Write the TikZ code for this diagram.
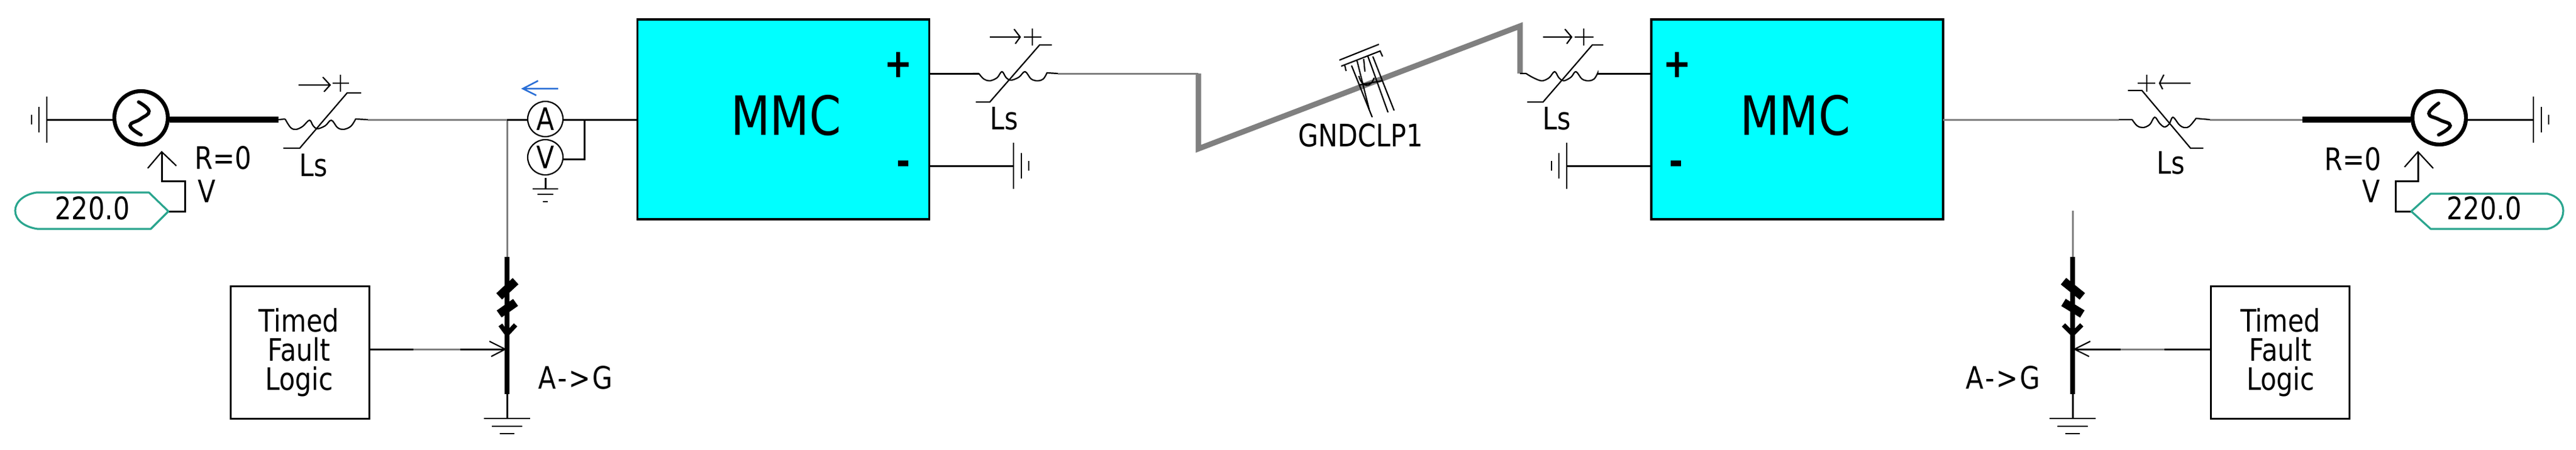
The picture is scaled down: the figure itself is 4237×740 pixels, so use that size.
\documentclass[tikz,border=0pt]{standalone}
\usepackage{fontspec}
\setmainfont[FakeStretch=0.84]{DejaVu Sans}
\usetikzlibrary{calc}
\definecolor{wiregray}{HTML}{808080}
\definecolor{cablegray}{HTML}{808080}
\definecolor{mmccyan}{HTML}{00FFFF}
\definecolor{tagteal}{HTML}{2AA58E}
\definecolor{flowblue}{HTML}{2A6FD6}
\tikzset{
  wire/.style={line width=1.5pt,black},
  gwire/.style={line width=1.5pt,wiregray},
  bus/.style={line width=4.8pt,black},
  cable/.style={line width=4.5pt,cablegray,line join=miter},
  thin sym/.style={line width=1.1pt,black},
  bar/.style={line width=1.4pt,black},
  lbl/.style={inner sep=0pt,font=\fontsize{25.5}{27}\selectfont},
  mmcbox/.style={draw=black,line width=1.6pt,fill=mmccyan,rectangle,inner sep=0pt,outer sep=0pt,minimum width=240pt,minimum height=164.5pt},
  logicbox/.style={draw=black,line width=1.5pt,fill=white,rectangle,inner sep=0pt,outer sep=0pt,minimum width=114pt,minimum height=109pt},
  logictext/.style={inner sep=0pt,align=center,font=\fontsize{25.5}{24}\selectfont},
  source/.style={draw=black,circle,line width=3.2pt,inner sep=0pt,outer sep=1.6pt,minimum size=44pt},
  meter/.style={draw=black,circle,line width=1.1pt,inner sep=0pt,outer sep=.5pt,minimum size=29pt,font=\fontsize{25.5}{27}\selectfont},
  sine/.style={line width=2.8pt,black,line cap=round},
  tag/.style={draw=tagteal,line width=1.6pt,fill=white,line join=round},
  polarity/.style={inner sep=0pt,font=\fontsize{33}{35}\bfseries\selectfont},
  mmctext/.style={inner sep=0pt,font=\fontsize{44.5}{46}\selectfont},
  bolt/.style={line width=7pt,black},
  faultline/.style={line width=3.8pt,black},
  bolthead/.style={line width=3.8pt,black},
  spaced/.style={inner sep=0pt,font=\fontsize{25.5}{27}\selectfont\addfontfeature{LetterSpace=6}}
}
\newcommand{\gndbars}[2]{\draw[bar] (#1) ++(0,-38) -- ++(0,76) (#1) ++({#2*13},-21) -- ++(0,42) (#1) ++({#2*25},-8) -- ++(0,16);}
\newcommand{\gnddown}[1]{\draw[bar] (#1) ++(-38,0) -- ++(76,0) (#1) ++(-25,13) -- ++(50,0) (#1) ++(-12,25) -- ++(24,0);}
\begin{document}
\begin{tikzpicture}[x=.5pt,y=-.5pt]
\useasboundingbox (0,0) rectangle (4237,740);

% ---------- named places ----------
\coordinate (GL) at (77,197);
\coordinate (GR) at (4167,197);
\coordinate (C1a) at (458,197);
\coordinate (C1b) at (605,197);
\coordinate (J1) at (834,197);
\coordinate (J2) at (961,197);
\coordinate (C2a) at (1610,121);
\coordinate (C2b) at (1740,121);
\coordinate (T1) at (1971,121);
\coordinate (T2) at (1971,245);
\coordinate (T3) at (2500,43);
\coordinate (T4) at (2500,121);
\coordinate (C3b) at (2628,121);
\coordinate (G2) at (1667,273);
\coordinate (G3) at (2577,273);
\coordinate (C4a) at (3485,197);
\coordinate (C4b) at (3635,197);
\coordinate (B4) at (3787,197);
\coordinate (B1) at (279,197);
\coordinate (F1a) at (834,423);
\coordinate (F1b) at (834,649);
\coordinate (F1g) at (834,689);
\coordinate (F1i) at (834,575);
\coordinate (F2t) at (3409,347);
\coordinate (F2a) at (3409,423);
\coordinate (F2b) at (3409,649);
\coordinate (F2g) at (3409,689);
\coordinate (F2i) at (3409,575);
\coordinate (MG) at (897,293);
\coordinate (MGb) at (897,311);
\coordinate (TagL) at (277,348);
\coordinate (TagR) at (3966,348);
\coordinate (VL) at (266,250);
\coordinate (VR) at (3977,250);

% ---------- blocks ----------
\node[mmcbox] (box1) at (1288.5,196.5) {};
\node[mmcbox] (box2) at (2956,196.5) {};
\node[mmctext] (mmc1) at (1293,190) {MMC};
\node[mmctext] (mmc2) at (2953,190) {MMC};
\node[polarity] (p1) at (1478,107) {+};
\node[polarity] (m1) at (1486,277) {-};
\node[polarity] (p2) at (2759,107) {+};
\node[polarity] (m2) at (2757,277) {-};
\node[logicbox] (tf1) at (493,580) {};
\node[logicbox] (tf2) at (3750.5,580) {};
\node[logictext] (tft1) at (492,580) {Timed\\Fault\\Logic};
\node[logictext] (tft2) at (3751,580) {Timed\\Fault\\Logic};
\node[source] (srcL) at (232,194) {};
\node[source] (srcR) at (4012,194) {};
\node[meter] (amm) at (897,196) {A};
\node[meter] (vm) at (897,259) {V};

% ---------- sources ----------
\draw[sine] plot[smooth,tension=.8] coordinates {(228,168) (245,183) (231,196) (214,207) (232,222)};
\draw[sine] plot[smooth,tension=.8] coordinates {(4011,170) (3995,187) (4012,197) (4030,207) (4011,222)};

% ---------- wiring ----------
\draw[wire] (GL) -- (GL -| srcL.west);
\gndbars{GL}{-1}
\draw[bus] (B1) -- (C1a);
\draw[gwire] (C1b) -- (J1);
\draw[gwire] (J1) -- (J1 |- F1a);
\draw[wire] (J1) -- (J1 -| amm.west);
\draw[wire] (amm.east |- J1) -- (J1 -| box1.west);
\draw[wire] (J2) |- (vm.-6);
\draw[wire] (vm.south |- MG) -- (MGb);
\draw[bar] (MGb) ++(-21,0) -- ++(42,0) (MGb) ++(-13,9) -- ++(26,0) (MGb) ++(-4,21) -- ++(8,0);
\draw[wire] (C2a -| box1.east) -- (C2a);
\draw[wire] (G2 -| box1.east) -- (G2);
\gndbars{G2}{1}
\draw[gwire] (C2b) -- (T1);
\draw[cable] (T1) -- (T2) -- (T3) -- (T4);
\draw[wire] (C3b) -- (C3b -| box2.west);
\draw[wire] (G3) -- (G3 -| box2.west);
\gndbars{G3}{-1}
\draw[gwire] (box2.east |- C4a) -- (C4a);
\draw[gwire] (C4b) -- (B4);
\draw[bus] (B4) -- (srcR.west |- B4);
\draw[wire] (srcR.east |- GR) -- (GR);
\gndbars{GR}{1}

% ---------- inductors ----------
\draw[thin sym] (C1a) -- (469,196) plot[smooth,tension=.6] coordinates {(469,196) (478,210) (487,213) (498,208) (509,198) (515,207) (522,212) (535,207) (545,198) (555,210) (565,213) (577,208) (585,196)} -- (C1b);
\draw[thin sym] (466,244) -- (493,244) -- (571,153) -- (594,153);
\draw[thin sym] (1600,121) -- (C2a) plot[smooth,tension=.6] coordinates {(1610,121) (1618,130) (1628,133) (1640,128) (1648,118) (1655,128) (1663,132) (1676,127) (1686,118) (1696,130) (1707,133) (1716,130) (1722,120)} -- (C2b);
\draw[thin sym] (1605,168) -- (1628,168) -- (1710,74) -- (1730,74);
\draw[thin sym] (T4) -- (2510,121) plot[smooth,tension=.6] coordinates {(2510,121) (2522,128) (2536,133) (2548,128) (2557,118) (2564,128) (2572,133) (2584,127) (2592,118) (2602,130) (2613,133) (2622,130) (2628,120)} -- (C3b);
\draw[thin sym] (2512,168) -- (2538,168) -- (2619,74) -- (2637,74);
\draw[thin sym] (C4a) -- (3507,197) plot[smooth,tension=.6] coordinates {(3507,197) (3515,207) (3525,210) (3536,205) (3544,193) (3552,203) (3560,209) (3568,204) (3574,193) (3584,205) (3592,210) (3601,208) (3612,195)} -- (C4b);
\draw[thin sym] (3624,244) -- (3603,244) -- (3523,149) -- (3500,149);

% ---------- direction marks over inductors ----------
\draw[thin sym] (491,140) -- (543,140) (531,127) -- (543,140) -- (533,151);
\draw[bar] (547,137) -- (574,137) (560,123) -- (560,151);
\draw[thin sym] (1628,61) -- (1678,61) (1668,48) -- (1678,61) -- (1670,72);
\draw[bar] (1684,61) -- (1713,61) (1698,47) -- (1698,75);
\draw[thin sym] (2538,61) -- (2585,61) (2574,48) -- (2585,61) -- (2577,72);
\draw[bar] (2590,61) -- (2621,61) (2605,47) -- (2605,75);
\draw[thin sym] (3603,137) -- (3552,137) (3559,123) -- (3552,137) -- (3557,147);
\draw[bar] (3516,137) -- (3545,137) (3531,123) -- (3531,151);
\draw[line width=1.3pt,flowblue] (918,146) -- (860,146) (885,133) -- (860,146) -- (882,157);

% ---------- tower ----------
\begin{scope}[line width=1.1pt,black]
\draw (2203,99) -- (2268,73);
\draw (2206,109) -- (2270,84) -- (2274,93);
\draw (2212,108) -- (2214,117);
\draw (2223,108) -- (2257,193);
\draw (2232,100) -- (2252,180);
\draw (2243,97) -- (2245,118);
\draw (2250,93) -- (2283,185);
\draw (2258,93) -- (2293,182);
\draw (2235,125) .. controls (2240,145) and (2255,145) .. (2260,128);
\draw (2235,140) -- (2273,133);
\end{scope}

% ---------- voltage setpoints ----------
\draw[wire] (VL) -- (266,298) -- (304,298) -- (304,348) -- (TagL);
\draw[thin sym] (243,277) -- (VL) -- (290,273);
\draw[tag] (TagL) -- (245,317) -- (60,317) .. controls (40,320) and (25,332) .. (25,347) .. controls (25,362) and (40,374) .. (62,377) -- (248,377) -- cycle;
\node[lbl] (vL) at (152,343) {220.0};
\draw[wire] (VR) -- (3977,298) -- (3940,298) -- (3940,348) -- (TagR);
\draw[thin sym] (3955,275) -- (VR) -- (4002,277);
\draw[tag] (TagR) -- (3998,319) -- (4190,319) .. controls (4205,322) and (4216,333) .. (4216,347) .. controls (4216,362) and (4205,374) .. (4190,377) -- (3998,377) -- cycle;
\node[lbl] (vR) at (4086,343) {220.0};

% ---------- faults ----------
\draw[faultline] (F1a) -- (F1b);
\draw[bolt] (821,488) -- (848,463) (821,517) -- (848,498);
\draw[bolthead] (823,535) -- (F1i |- 0,550) -- (848,535);
\draw[wire] (F1b) -- (F1g);
\gnddown{F1g}
\draw[wire] (tf1.east |- F1i) -- (F1i);
\draw[gwire] (680,575) -- (757,575);
\draw[thin sym] (805,562) -- (831,575) -- (808,587);
\draw[gwire] (F2t) -- (F2a);
\draw[faultline] (F2a) -- (F2b);
\draw[bolt] (3425,488) -- (3394,463) (3425,517) -- (3394,498);
\draw[bolthead] (3394,535) -- (F2i |- 0,550) -- (3424,535);
\draw[wire] (F2b) -- (F2g);
\gnddown{F2g}
\draw[wire] (tf2.west |- F2i) -- (F2i);
\draw[gwire] (3488,575) -- (3560,575);
\draw[thin sym] (3438,562) -- (3412,575) -- (3436,587);

% ---------- labels ----------
\node[lbl] (ls1) at (516,272) {Ls};
\node[lbl] (ls2) at (1652,195) {Ls};
\node[lbl] (ls3) at (2561,195) {Ls};
\node[lbl] (ls4) at (3571,268) {Ls};
\node[lbl] (r1) at (367,260) {R=0};
\node[lbl] (r2) at (3870,262) {R=0};
\node[lbl] (v1) at (340,315) {V};
\node[lbl] (v2) at (3900,315) {V};
\node[lbl] (gc) at (2238,223) {GNDCLP1};
\node[spaced] (ag1) at (947,622) {A->G};
\node[spaced] (ag2) at (3295,622) {A->G};
\end{tikzpicture}
\end{document}
